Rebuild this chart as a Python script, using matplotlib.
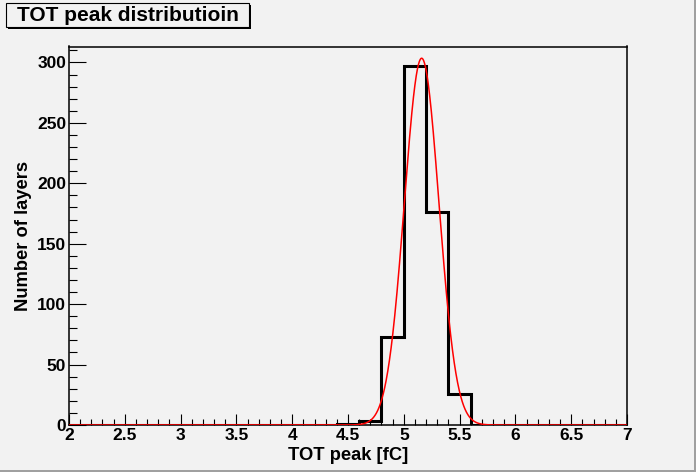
import numpy as np
import matplotlib
matplotlib.use("Agg")
import matplotlib.pyplot as plt
from matplotlib.patches import Rectangle
from matplotlib.ticker import MultipleLocator, FuncFormatter

# ---- data ----
bin_lo = 2.0
bin_hi = 7.0
counts = [0, 0, 0, 0, 0, 0, 0, 0, 0, 0, 0, 0,
          1, 3, 73, 297, 176, 26,
          0, 0, 0, 0, 0, 0, 0]
fit_amp = 303.5
fit_mean = 5.16
fit_sigma = 0.155
title = "TOT peak distributioin"
xlabel = "TOT peak [fC]"
ylabel = "Number of layers"

W, H = 696, 472
BG = "#f2f2f2"
FONT = ["Liberation Sans", "DejaVu Sans"]
plt.rcParams['font.family'] = FONT

fig = plt.figure(figsize=(W / 100, H / 100), dpi=100, facecolor=BG)

def fx(px):
    return px / W

def fy(py):
    return 1 - py / H

L, R, T, B = 69, 627, 46.5, 425
ax = fig.add_axes([fx(L), fy(B), fx(R) - fx(L), fy(T) - fy(B)])
ax.set_facecolor(BG)

edges = np.linspace(bin_lo, bin_hi, len(counts) + 1)
ax.stairs(counts, edges, color="black", lw=2.2, baseline=None, zorder=3)

xs = np.linspace(bin_lo, bin_hi, 2000)
ax.plot(xs, fit_amp * np.exp(-0.5 * ((xs - fit_mean) / fit_sigma) ** 2),
        color="#ff0000", lw=1.1, zorder=4)

ax.set_xlim(bin_lo, bin_hi)
ax.set_ylim(0, 313.2)

ax.xaxis.set_major_locator(MultipleLocator(0.5))
ax.xaxis.set_minor_locator(MultipleLocator(0.1))
ax.yaxis.set_major_locator(MultipleLocator(50))
ax.yaxis.set_minor_locator(MultipleLocator(10))
ax.xaxis.set_major_formatter(FuncFormatter(lambda v, p: f"{v:g}"))

ax.tick_params(axis="x", which="major", direction="in", length=8.2, width=0.8,
               labelsize=12.5, pad=2, top=False)
ax.tick_params(axis="x", which="minor", direction="in", length=4.1, width=0.8, top=False)
ax.tick_params(axis="y", which="major", direction="in", length=12, width=0.8,
               labelsize=12.5, pad=2, right=False)
ax.tick_params(axis="y", which="minor", direction="in", length=6, width=0.8, right=False)
for lab in ax.get_xticklabels() + ax.get_yticklabels():
    lab.set_fontweight("bold")
for s in ax.spines.values():
    s.set_linewidth(1.1)
    s.set_color("black")

fig.text(fx(348), fy(455), xlabel, ha="center", va="center",
         fontsize=13.2, fontweight="bold")
fig.text(fx(24), fy(236), ylabel, ha="center", va="center", rotation=90,
         fontsize=13.2, fontweight="bold")

# title box with shadow
bx0, by0, bx1, by1 = 6, 3, 249, 27
fig.patches.append(Rectangle((fx(bx0 + 2), fy(by1 + 2)), fx(bx1 - bx0), fy(by0) - fy(by1),
                             transform=fig.transFigure, facecolor="black",
                             edgecolor="none", zorder=5))
fig.patches.append(Rectangle((fx(bx0), fy(by1)), fx(bx1 - bx0), fy(by0) - fy(by1),
                             transform=fig.transFigure, facecolor=BG,
                             edgecolor="black", lw=0.8, zorder=6))
fig.text(fx((bx0 + bx1) / 2), fy((by0 + by1) / 2 + 0.5), title, ha="center", va="center",
         fontsize=15, fontweight="bold", zorder=7)

# canvas bevel
fig.patches.append(Rectangle((fx(W - 2.5), 0), fx(2.5), 1, transform=fig.transFigure,
                             facecolor="#a0a0a0", edgecolor="none", zorder=8))
fig.patches.append(Rectangle((0, 0), 1, 2.5 / H, transform=fig.transFigure,
                             facecolor="#a0a0a0", edgecolor="none", zorder=8))

fig.savefig("out.png", dpi=100, facecolor=BG)
